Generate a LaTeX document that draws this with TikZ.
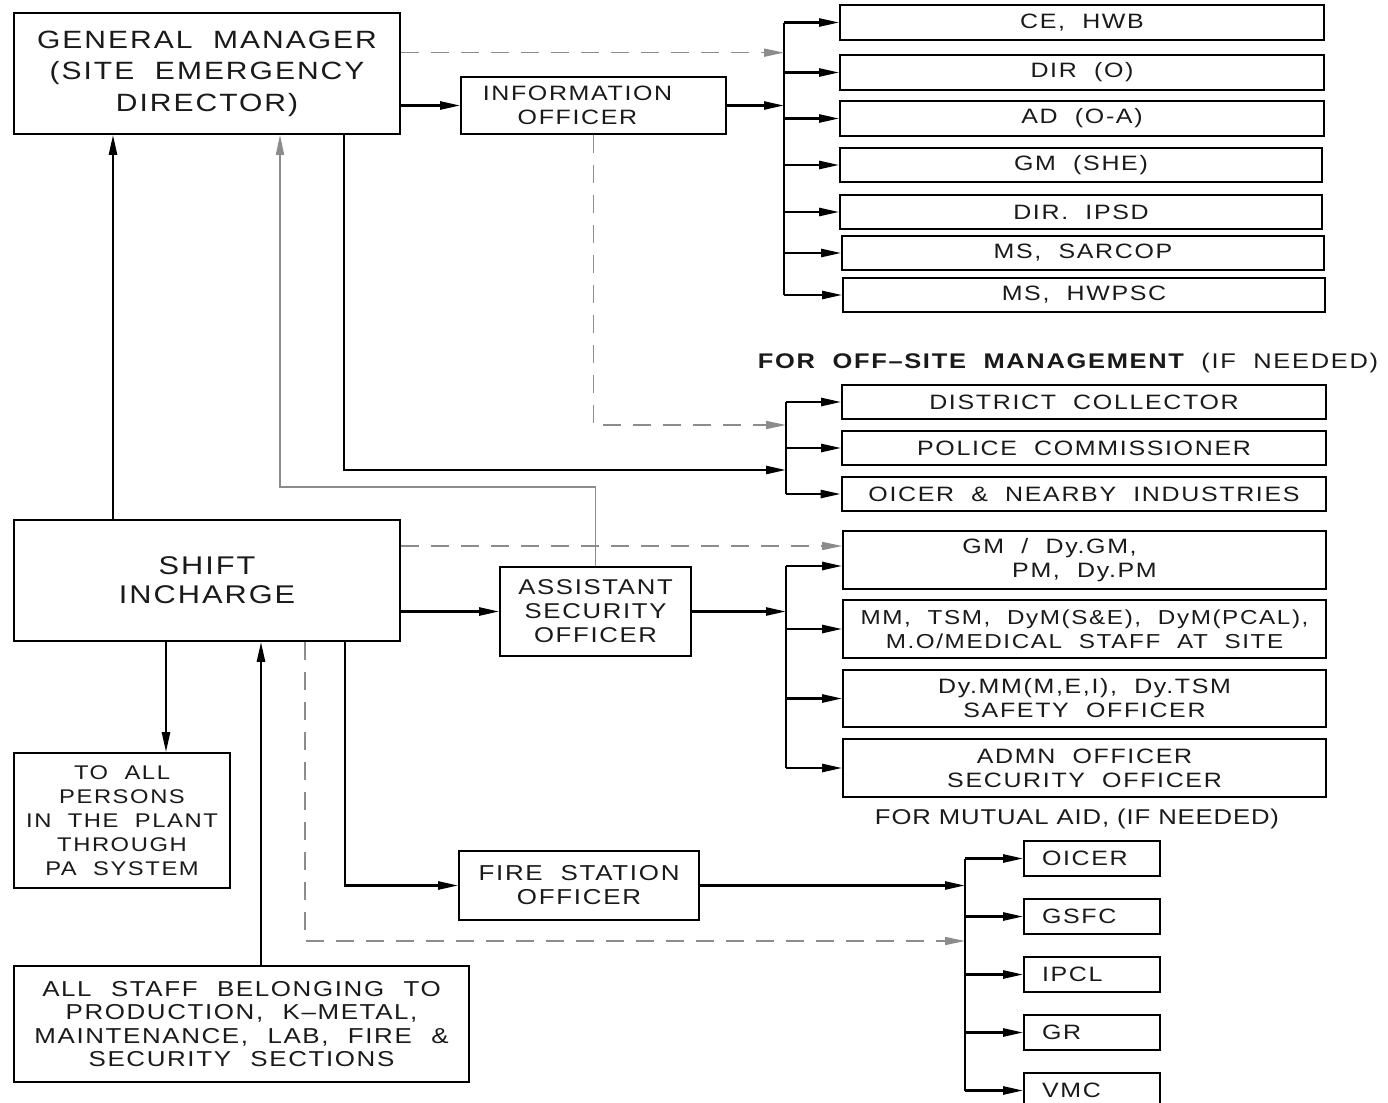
\documentclass[tikz,border=0pt]{standalone}
\usepackage{fontspec}
\usetikzlibrary{arrows.meta,calc}
\newfontfamily\cad[FakeStretch=1.2,LetterSpace=8,WordSpace=2.0]{Liberation Sans}
\newfontfamily\cadw[FakeStretch=1.2,LetterSpace=7.5,WordSpace=2.2]{Liberation Sans}
\newfontfamily\cadn[FakeStretch=1.2,LetterSpace=4]{Liberation Sans}
\definecolor{lgray}{HTML}{8C8C8C}
\definecolor{ink}{HTML}{1A1A1A}
\begin{document}
\begin{tikzpicture}[x=0.5pt,y=-0.5pt,
  corners/.style n args={4}{minimum width={(#3-#1)*0.5pt}, minimum height={(#4-#2)*0.5pt}, at={({(#1+#3)/2},{(#2+#4)/2})}},
  box/.style={draw, line width=0.8pt, inner sep=0pt, align=center, text=ink, font=\cad\fontsize{10.4}{12}\selectfont},
  bigbox/.style={box, font=\cad\fontsize{12.5}{15.8}\selectfont},
  sbox/.style={box, text width=50pt, align=left},
  lbl/.style={inner sep=0pt, text=ink},
  tip/.style={-{Triangle[length=10pt,width=4pt]}},
  arr/.style={line width=1.2pt, tip},
  bus/.style={line width=1.3pt},
  garr/.style={draw=lgray, line width=0.8pt, -{Triangle[length=10pt,width=4pt,fill=lgray]}},
  gdash/.style={garr, dash pattern=on 9pt off 6pt}]
\clip (0,0) rectangle (1388,1103);
\fill[white] (0,0) rectangle (1388,1103);

% left column
\node[bigbox, corners={14}{13}{400}{134}] (gm) {GENERAL  MANAGER\\(SITE  EMERGENCY\\DIRECTOR)};
\node[box, corners={461}{77}{726}{134}] (io) {INFORMATION\rule{16pt}{0pt}\\OFFICER\rule{16pt}{0pt}};
\node[bigbox, font=\cad\fontsize{12.8}{14.5}\selectfont, corners={14}{520}{400}{641}] (si) {SHIFT\\INCHARGE};
\node[box, font=\cad\fontsize{10.7}{12}\selectfont, corners={500}{567}{691}{656}] (aso) {ASSISTANT\\SECURITY\\OFFICER};
\node[box, font=\cad\fontsize{10.8}{12}\selectfont, corners={459}{851}{699}{920}] (fso) {FIRE  STATION\\OFFICER};
\node[box, font=\cad\fontsize{9.9}{12}\selectfont, corners={14}{753}{230}{888}] (toall) {TO  ALL\\PERSONS\\IN  THE  PLANT\\THROUGH\\PA  SYSTEM};
\node[box, font=\cadw\fontsize{10.8}{11.8}\selectfont, corners={14}{966}{469}{1082}] (staff) {ALL  STAFF  BELONGING  TO\\PRODUCTION,  K–METAL,\\MAINTENANCE,  LAB,  FIRE  \&\\SECURITY  SECTIONS};

% top right list
\node[box, corners={840}{5}{1324}{40}] (ce) {CE,  HWB};
\node[box, corners={840}{55}{1324}{90}] (dir) {DIR  (O)};
\node[box, corners={840}{101}{1324}{136}] (ad) {AD (O-A)};
\node[box, corners={840}{148}{1322}{182}] (gmshe) {GM (SHE)};
\node[box, corners={840}{195}{1322}{229}] (ipsd) {DIR. IPSD};
\node[box, corners={842}{236}{1324}{270}] (sarcop) {MS,  SARCOP};
\node[box, corners={843}{278}{1325}{312}] (hwpsc) {MS, HWPSC};

% off-site
\node[lbl, font=\cad\fontsize{10.6}{12}\selectfont] (offlbl) at (1068,363) {{\bfseries FOR  OFF–SITE  MANAGEMENT} (IF  NEEDED)};
\node[box, corners={842}{385}{1326}{419}] (dc) {DISTRICT  COLLECTOR};
\node[box, corners={842}{431}{1326}{465}] (pc) {POLICE  COMMISSIONER};
\node[box, line width=1.3pt, corners={842}{477}{1326}{511}] (oin) {OICER  \&  NEARBY  INDUSTRIES};

% middle right
\node[box, corners={843}{531}{1326}{589}] (gmdy) {GM / Dy.GM,\rule{35pt}{0pt}\\PM,  Dy.PM};
\node[box, font=\cad\fontsize{10.1}{12}\selectfont, corners={843}{600}{1326}{658}] (mm) {MM,  TSM,  DyM(S\&E),  DyM(PCAL),\\M.O/MEDICAL  STAFF  AT  SITE};
\node[box, corners={843}{670}{1326}{727}] (dymm) {Dy.MM(M,E,I),  Dy.TSM\\SAFETY  OFFICER};
\node[box, corners={843}{739}{1326}{797}] (admn) {ADMN  OFFICER\\SECURITY  OFFICER};
\node[lbl, font=\cadn\fontsize{10.7}{12}\selectfont] (mutlbl) at (1077,819) {FOR MUTUAL AID, (IF NEEDED)};

% mutual aid
\node[sbox, corners={1024}{841}{1160}{876}] (m1) {OICER};
\node[sbox, corners={1024}{899}{1160}{934}] (m2) {GSFC};
\node[sbox, corners={1024}{957}{1160}{992}] (m3) {IPCL};
\node[sbox, corners={1024}{1015}{1160}{1050}] (m4) {GR};
\node[sbox, corners={1024}{1073}{1160}{1108}] (m5) {VMC};

% helper coordinates
\coordinate (busA) at (784,0);
\coordinate (busB) at (786,0);
\coordinate (busD) at (965,0);
\coordinate (xa) at (113,0);
\coordinate (xg) at (280,0);
\coordinate (xb) at (344,0);
\coordinate (xc) at (166,0);
\coordinate (xd) at (261,0);
\coordinate (xe) at (305,0);
\coordinate (xf) at (345,0);
\coordinate (ya) at (0,487);
\coordinate (yb) at (0,470);
\coordinate (yc) at (0,425);
\coordinate (ysd) at (0,546);
\coordinate (ygm) at (0,566);
\coordinate (yd) at (0,941);
\coordinate (gmd) at ($(gm.north east)!0.33!(gm.south east)$);

% top bus
\draw[bus] (busA |- ce.west) -- (busA |- hwpsc.west);
\foreach \n in {ce,dir,ad,gmshe,ipsd,sarcop,hwpsc}
  \draw[arr] (busA |- \n.west) -- (\n.west);
\draw[arr] (gm.east |- io.west) -- (io.west);
\draw[arr] (io.east) -- (busA |- io.east);
\draw[gdash] (gmd) -- (gmd -| busA);

% connectors GM / SI
\draw[arr] (xa |- si.north) -- (xa |- gm.south);
\draw[garr] (aso.north) |- (xg |- ya) -- (xg |- gm.south);
\draw[arr] (xb |- gm.south) |- (busB |- yb);
\draw[gdash] (io.south) |- (busB |- yc);

% off-site bus
\draw[bus] (busB |- dc.west) -- (busB |- oin.west);
\foreach \n in {dc,pc,oin}
  \draw[arr] (busB |- \n.west) -- (\n.west);

% SI to ASO and middle bus
\draw[gdash] (si.east |- ysd) -- (gmdy.west |- ysd);
\draw[arr] (si.east |- aso.west) -- (aso.west);
\draw[arr] (aso.east) -- (busB |- aso.east);
\draw[bus] (busB |- ygm) -- (busB |- admn.west);
\draw[arr] (busB |- ygm) -- (gmdy.west |- ygm);
\foreach \n in {mm,dymm,admn}
  \draw[arr] (busB |- \n.west) -- (\n.west);

% bottom
\draw[arr] (xc |- si.south) -- (xc |- toall.north);
\draw[arr] (xd |- staff.north) -- (xd |- si.south);
\draw[gdash] (xe |- si.south) |- (busD |- yd);
\draw[arr] (xf |- si.south) |- (fso.west);
\draw[arr] (fso.east) -- (busD |- fso.east);
\draw[bus] (busD |- m1.west) -- (busD |- m5.west);
\foreach \n in {m1,m2,m3,m4,m5}
  \draw[arr] (busD |- \n.west) -- (\n.west);
\end{tikzpicture}
\end{document}
